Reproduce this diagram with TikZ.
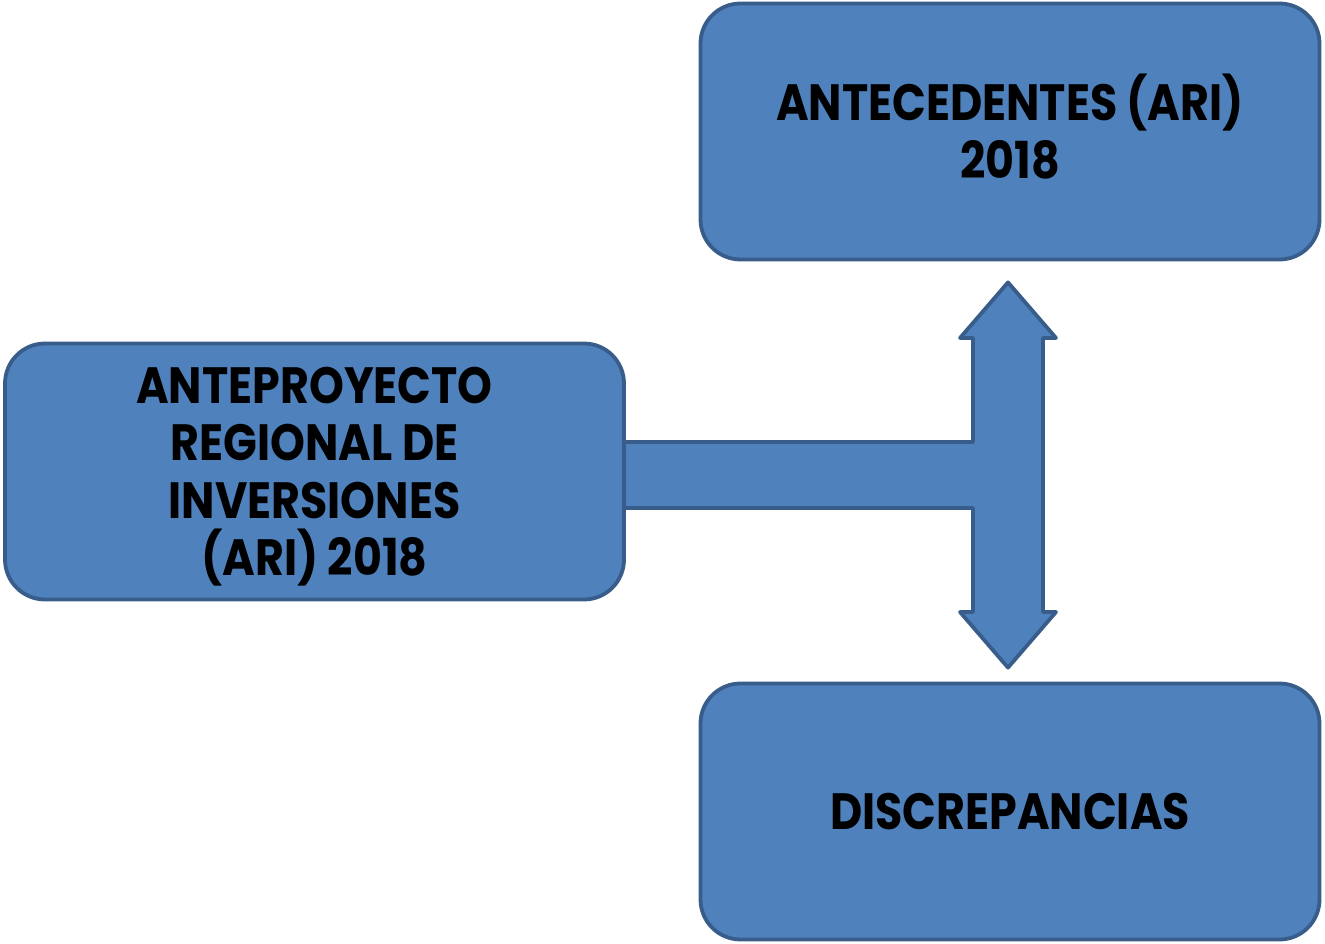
\documentclass[tikz,border=0pt]{standalone}
\usepackage{fontspec}
\setmainfont[FakeStretch=0.87]{Poppins}
\usetikzlibrary{calc}
\definecolor{boxfill}{HTML}{4F81BD}
\definecolor{boxline}{HTML}{385D8A}
\newcommand{\pstrut}{\vphantom{()}}
\tikzset{
  bluebox/.style={draw=boxline, fill=boxfill, line width=3.8pt, rounded corners=40pt,
    minimum width=619pt, minimum height=256pt, align=center, inner sep=0pt,
    font=\fontsize{51}{57.5}\selectfont\bfseries, text=black},
  blockarrow/.style={draw=boxline, fill=boxfill, line width=3.8pt, line join=round}
}
\begin{document}
\begin{tikzpicture}[x=1pt,y=-1pt]
\useasboundingbox (0,0) rectangle (1325,944);
\node[bluebox] (top) at (1010,131.5) {\pstrut ANTECEDENTES (ARI)\\2018\pstrut};
\node[bluebox] (bottom) at (1010,811.5) {\pstrut DISCREPANCIAS};
\path (314.5,471.5) coordinate (leftc);
\draw[blockarrow]
  (610,442) -- (973,442) -- (973,338) -- (960,338) -- ($(top.south)+(-2,21)$)
  -- (1056,338) -- (1043,338) -- (1043,612) -- (1056,612) -- ($(bottom.north)+(-2,-14)$)
  -- (960,612) -- (973,612) -- (973,508) -- (610,508) -- cycle;
\node[bluebox] (left) at (leftc) {\pstrut ANTEPROYECTO\\REGIONAL DE\\INVERSIONES\\(ARI) 2018\pstrut};
\end{tikzpicture}
\end{document}
